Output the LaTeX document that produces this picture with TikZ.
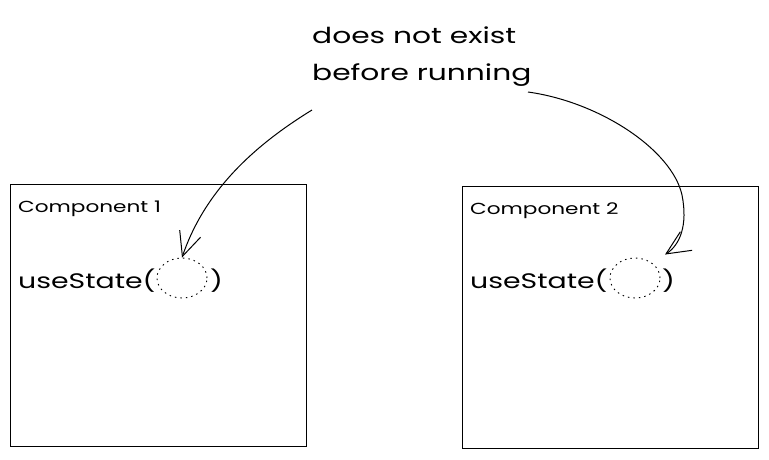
\documentclass[tikz,border=0pt]{standalone}
\usepackage{fontspec}
\setmainfont{Poppins}
\newfontfamily\handfont[FakeStretch=1.35]{Poppins}
\usetikzlibrary{shapes.geometric,arrows.meta,calc}
\begin{document}
\begin{tikzpicture}[x=1pt,y=-1pt,
  box/.style={draw,line width=1pt,minimum width=296pt,minimum height=262pt,inner sep=0pt},
  lbl/.style={anchor=base west,inner sep=0pt,font=\handfont\fontsize{16}{20}\selectfont},
  code/.style={anchor=base west,inner sep=0pt,font=\handfont\fontsize{21}{24}\selectfont},
  note/.style={anchor=base west,inner sep=0pt,font=\handfont\fontsize{22}{26}\selectfont},
  hole/.style={ellipse,draw,line width=0.9pt,dash pattern=on 1.5pt off 4pt,minimum width=50pt,minimum height=40pt,inner sep=0pt},
  sketch/.style={line width=1pt,-{Straight Barb[length=24pt,width=22pt,line width=1pt]}}]
\useasboundingbox[fill=white] (0,0) rectangle (769,459);
% boxes
\node[box] (b1) at (158,315) {};
\node[box] (b2) at (610,317) {};
% note
\node[note] (n1) at (312,43) {does not exist};
\node[note] (n2) at (312,80) {before running};
% component labels
\node[lbl] (c1) at (18,212) {Component 1};
\node[lbl] (c2) at (470,214) {Component 2};
% useState lines
\node[code] (u1) at (18,288) {useState(};
\node[hole] (e1) at (182,278) {};
\node[code] (p1) at (210,288) {)};
\node[code] (u2) at (470,288) {useState(};
\node[hole] (e2) at (635,278) {};
\node[code] (p2) at (662,288) {)};
% arrows
\coordinate (s1) at (312,110);
\coordinate (s2) at (528,92);
\draw[sketch] (s1) .. controls (255,145) and (205,190) .. (e1.north);
\draw[sketch] (s2) .. controls (600,102) and (672,150) .. (682,195)
  .. controls (688,225) and (680,245) .. ($(e2.north east)+(12,-9)$);
\end{tikzpicture}
\end{document}
